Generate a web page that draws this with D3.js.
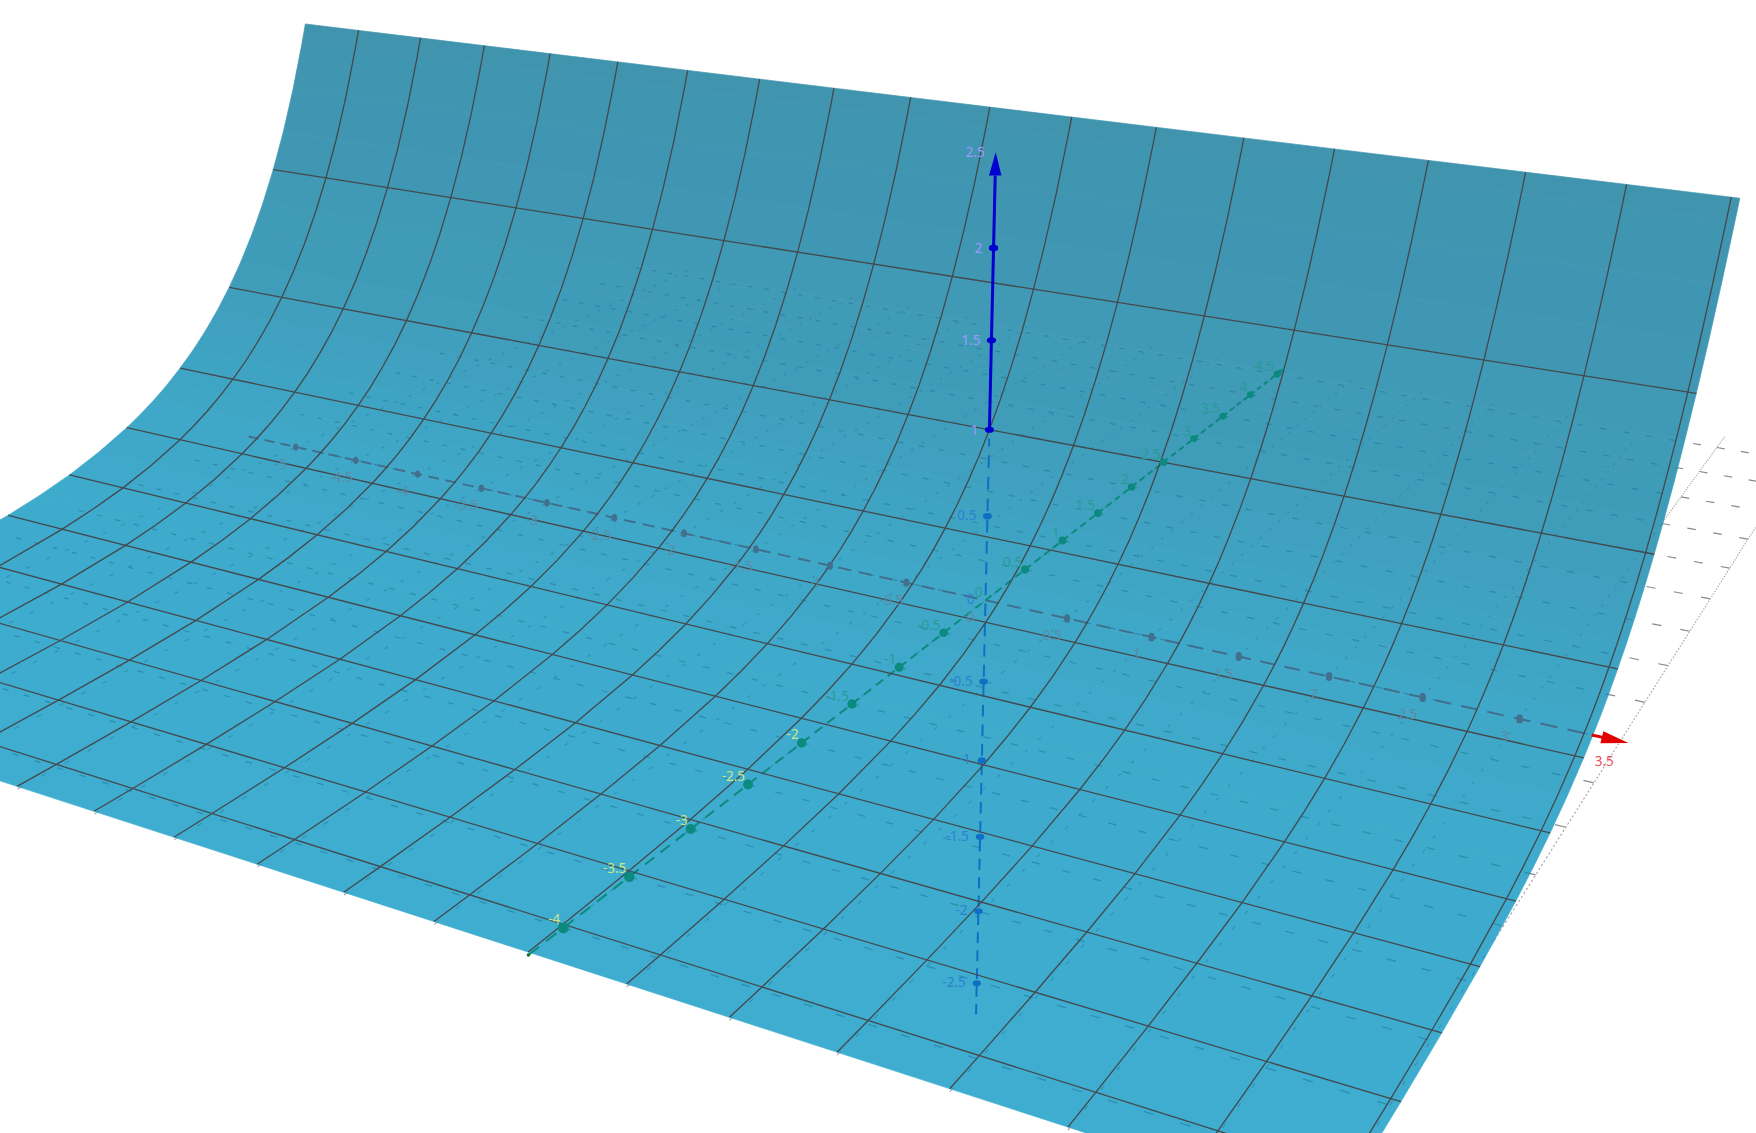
<!DOCTYPE html>
<html>
<head>
<meta charset="utf-8">
<script src="https://cdn.jsdelivr.net/npm/d3@7"></script>
<style>
html, body { margin: 0; padding: 0; background: #fff; }
svg { display: block; }
text { font-family: "Noto Sans", sans-serif; font-size: 13.5px; }
</style>
</head>
<body>
<div id="chart"></div>
<script>
// surface profile: height z for each y
var surfaceY = [-4.25, -4, -3.5, -3, -2.5, -2, -1.75, -1.5, -1.25, -1, -0.875, -0.75, -0.625, -0.5, -0.375, -0.25, -0.125, 0, 0.125, 0.25, 0.375, 0.5, 0.625, 0.75, 0.875, 0.916];
var surfaceZ = [0.014, 0.018, 0.03, 0.05, 0.082, 0.135, 0.174, 0.223, 0.287, 0.368, 0.417, 0.472, 0.535, 0.607, 0.687, 0.779, 0.882, 1, 1.133, 1.284, 1.455, 1.649, 1.868, 2.117, 2.399, 2.5];

// mesh lines on the surface
var meshX = [-5, -4.5, -4, -3.5, -3, -2.5, -2, -1.5, -1, -0.5, 0, 0.5, 1, 1.5, 2, 2.5, 3, 3.5];
var meshY = [-4, -3.5, -3, -2.5, -2, -1.5, -1, -0.5, 0, 0.5];

// grid of the xy plane
var planeX = [-5, -4.5, -4, -3.5, -3, -2.5, -2, -1.5, -1, -0.5, 0, 0.5, 1, 1.5, 2, 2.5, 3, 3.5];
var planeY = [-4, -3.5, -3, -2.5, -2, -1.5, -1, -0.5, 0, 0.5, 1, 1.5, 2, 2.5, 3, 3.5, 4, 4.5];

// axis ticks
var xTicks = [-5, -4.5, -4, -3.5, -3, -2.5, -2, -1.5, -1, -0.5, 0.5, 1, 1.5, 2, 2.5, 3];
var yTicks = [-4, -3.5, -3, -2.5, -2, -1.5, -1, -0.5, 0.5, 1, 1.5, 2, 2.5, 3, 3.5, 4, 4.5];
var zHiddenTicks = [-2.5, -2, -1.5, -1, -0.5, 0.5];
var zShownTicks = [1, 1.5, 2];

var xEdge = [-5.44, 3.54];
var planeEdgeX = [-5.4, 3.55];
var planeEdgeY = [-4.25, 4.75];

var width = 1756, height = 1133;

// picture was measured at 1568 wide
var scale = d3.scaleLinear().domain([0, 1568]).range([0, width]);

// camera, fitted on the axis ticks
function project(x, y, z) {
    var w = 1 - 0.03275 * x + 0.05725 * y - 0.03127 * z;
    return {
        x: scale((880 + 114.55 * x + 123.05 * y - 24.15 * z) / w),
        y: scale((536 + 14.3 * x - 25.7 * y - 164.25 * z) / w),
        w: w
    };
}

// the fit runs a little wide high up, pull the surface in there
function surfacePoint(x, y, z) {
    return project(x * (1 - 0.003 * z), y, z);
}

var line = d3.line().x(function(d) { return d.x; }).y(function(d) { return d.y; });

// dashes measured in axis units, so they shrink with the perspective
function dashes(a, b, period, duty) {
    var len = Math.sqrt(Math.pow(b[0] - a[0], 2) + Math.pow(b[1] - a[1], 2) + Math.pow(b[2] - a[2], 2));
    var out = '';
    d3.range(0, len, period).forEach(function(t) {
        var t1 = Math.min(t + period * duty, len);
        var p = [t / len, t1 / len].map(function(f) {
            return project(a[0] + (b[0] - a[0]) * f, a[1] + (b[1] - a[1]) * f, a[2] + (b[2] - a[2]) * f);
        });
        out += line(p);
    });
    return out;
}

var surfaceColor = d3.scaleLinear()
    .domain([0, 0.5, 1, 1.65, 2.5])
    .range(['#3eadd0', '#3fa6c6', '#3f9ebb', '#4098b4', '#4094ae']);

var svg = d3.select('#chart')
    .append('svg')
    .attr('width', width)
    .attr('height', height);

svg.append('rect')
    .attr('width', width)
    .attr('height', height)
    .attr('fill', '#fff');

// outline of the surface
var outline = surfaceY.map(function(y, i) { return surfacePoint(xEdge[0], y, surfaceZ[i]); })
    .concat(surfaceY.map(function(y, i) { return surfacePoint(xEdge[1], y, surfaceZ[i]); }).reverse());

svg.append('clipPath')
    .attr('id', 'surface-clip')
    .append('path')
    .attr('d', line(outline) + 'Z');

function drawPlane(parent, o) {
    var g = parent.append('g').attr('fill', 'none');
    g.selectAll('path.px')
        .data(planeY)
        .enter().append('path')
        .attr('class', 'px')
        .attr('stroke', o.colorX)
        .attr('stroke-opacity', o.opacityX)
        .attr('stroke-width', 1.2)
        .attr('d', function(y) { return dashes([planeEdgeX[0], y, 0], [planeEdgeX[1], y, 0], 0.15, o.dutyX); });
    g.selectAll('path.py')
        .data(planeX)
        .enter().append('path')
        .attr('class', 'py')
        .attr('stroke', o.colorY)
        .attr('stroke-opacity', o.opacityY)
        .attr('stroke-width', 1.1)
        .attr('d', function(x) { return dashes([x, planeEdgeY[0], 0], [x, planeEdgeY[1], 0], o.periodY, o.dutyY); });
}

// the plane seen past the edge of the surface
drawPlane(svg, {colorX: '#8a8a8a', opacityX: 1, dutyX: 0.33, colorY: '#a5a5a5', opacityY: 1, periodY: 0.04, dutyY: 0.5});

// surface strips
svg.append('g')
    .selectAll('path')
    .data(d3.range(surfaceY.length - 1))
    .enter().append('path')
    .attr('d', function(i) {
        return line([
            surfacePoint(xEdge[0], surfaceY[i], surfaceZ[i]),
            surfacePoint(xEdge[1], surfaceY[i], surfaceZ[i]),
            surfacePoint(xEdge[1], surfaceY[i + 1], surfaceZ[i + 1]),
            surfacePoint(xEdge[0], surfaceY[i + 1], surfaceZ[i + 1])
        ]) + 'Z';
    })
    .attr('fill', function(i) { return surfaceColor((surfaceZ[i] + surfaceZ[i + 1]) / 2); })
    .attr('stroke', function(i) { return surfaceColor((surfaceZ[i] + surfaceZ[i + 1]) / 2); })
    .attr('stroke-width', 0.7);

// the plane seen through the surface
drawPlane(svg.append('g').attr('clip-path', 'url(#surface-clip)'),
    {colorX: '#22789a', opacityX: 0.6, dutyX: 0.27, colorY: '#22789a', opacityY: 0.5, periodY: 0.15, dutyY: 0.2});

// hidden parts of the axes
svg.append('path')
    .attr('d', dashes([planeEdgeX[0], 0, 0], [3.36, 0, 0], 0.135, 0.62))
    .attr('stroke', '#41708f').attr('stroke-width', 2).attr('fill', 'none');
svg.append('path')
    .attr('d', dashes([0, -4.25, 0], [0, 4.55, 0], 0.125, 0.6))
    .attr('stroke', '#0b8a7e').attr('stroke-width', 2).attr('fill', 'none');
svg.append('path')
    .attr('d', dashes([0, 0, -2.72], [0, 0, 0.95], 0.125, 0.6))
    .attr('stroke', '#0f6fc4').attr('stroke-width', 2).attr('fill', 'none');

// mesh lines
var mesh = svg.append('g').attr('fill', 'none').attr('stroke', '#43494d').attr('stroke-width', 1.3);
mesh.selectAll('path.mx')
    .data(meshX)
    .enter().append('path')
    .attr('class', 'mx')
    .attr('d', function(x) {
        return line(surfaceY.map(function(y, i) { return surfacePoint(x, y, surfaceZ[i]); }));
    });
mesh.selectAll('path.my')
    .data(meshY)
    .enter().append('path')
    .attr('class', 'my')
    .attr('d', function(y) {
        var z = surfaceZ[surfaceY.indexOf(y)];
        return line([surfacePoint(xEdge[0], y, z), surfacePoint(xEdge[1], y, z)]);
    });

// visible parts of the axes
svg.append('path')
    .attr('d', line([project(0, 0, 1), project(0, 0, 2.38)]))
    .attr('stroke', '#0000d0').attr('stroke-width', 3).attr('fill', 'none');
svg.append('path')
    .attr('d', line([project(3.36, 0, 0), project(3.42, 0, 0)]))
    .attr('stroke', '#e00000').attr('stroke-width', 3).attr('fill', 'none');

function arrowHead(tip, base, dx, dy, color) {
    var t = project(tip[0], tip[1], tip[2]), b = project(base[0], base[1], base[2]);
    svg.append('path')
        .attr('d', line([t, {x: b.x + dx, y: b.y + dy}, {x: b.x - dx, y: b.y - dy}]) + 'Z')
        .attr('fill', color);
}
arrowHead([0, 0, 2.5], [0, 0, 2.38], 6.2, 0, '#0000d0');
arrowHead([3.54, 0, 0], [3.41, 0, 0], 1.5, -6, '#e00000');
arrowHead([0, 4.66, 0], [0, 4.5, 0], 2.5, 2.5, '#0b8a7e');

// tick marks
function tickMarks(values, toPoint, rx, ry, color) {
    svg.append('g')
        .selectAll('ellipse')
        .data(values)
        .enter().append('ellipse')
        .attr('cx', function(d) { return project.apply(null, toPoint(d)).x; })
        .attr('cy', function(d) { return project.apply(null, toPoint(d)).y; })
        .attr('rx', function(d) { return rx / project.apply(null, toPoint(d)).w; })
        .attr('ry', function(d) { return ry / project.apply(null, toPoint(d)).w; })
        .attr('fill', color);
}
function onX(d) { return [d, 0, 0]; }
function onY(d) { return [0, d, 0]; }
function onZ(d) { return [0, 0, d]; }

tickMarks(xTicks, onX, 3, 4.2, '#41708f');
tickMarks(yTicks, onY, 4.2, 4.2, '#0b8a7e');
tickMarks(zHiddenTicks, onZ, 4.4, 3.2, '#0f6fc4');
tickMarks(zShownTicks, onZ, 4.4, 3, '#0000d0');

svg.append('circle')
    .attr('cx', project(0, -4.25, 0).x)
    .attr('cy', project(0, -4.25, 0).y)
    .attr('r', 1.8)
    .attr('fill', '#0a7a20');

// tick labels
function tickLabels(values, toPoint, dx, dy, anchor, color) {
    svg.append('g')
        .selectAll('text')
        .data(values)
        .enter().append('text')
        .attr('x', function(d) { return project.apply(null, toPoint(d)).x + dx; })
        .attr('y', function(d) { return project.apply(null, toPoint(d)).y + dy; })
        .attr('text-anchor', anchor)
        .attr('fill', color)
        .text(function(d) { return d; });
}

tickLabels(xTicks.concat([0]), onX, -15, 22, 'middle', '#5b8ca6');
tickLabels([3.5], onX, -16, 25, 'middle', '#f0505c');
tickLabels(yTicks.filter(function(d) { return d > -2; }).concat([0]), onY, -3, -3, 'end', '#2a9a98');
tickLabels(yTicks.filter(function(d) { return d <= -2; }), onY, -3, -4, 'end', '#c4e78c');
tickLabels(zHiddenTicks.concat([0]), onZ, -11, 4, 'end', '#2f7fd0');
tickLabels(zShownTicks.concat([2.5]), onZ, -11, 5, 'end', '#9a9aff');
</script>
</body>
</html>
